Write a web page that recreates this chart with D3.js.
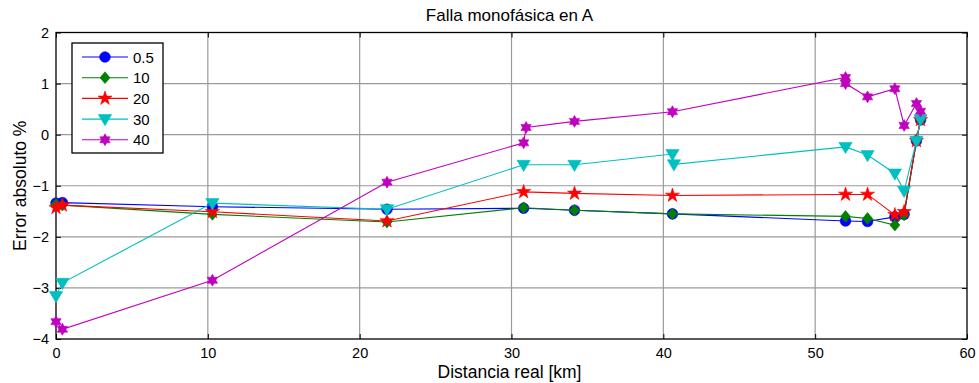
<!DOCTYPE html>
<html>
<head>
<meta charset="utf-8">
<script src="https://cdn.jsdelivr.net/npm/d3@7"></script>
<style>
  body { margin:0; background:#fff; }
  text { font-family: "Liberation Sans", Arial, sans-serif; fill:#000; }
</style>
</head>
<body>
<div id="chart"></div>
<script>
// series values
const seriesNames = ["0.5", "10", "20", "30", "40"];
const seriesColors = ["#0000ff", "#007f00", "#ff0000", "#00bfbf", "#bf00bf"];

const x05 = [0, 0.42, 10.3, 21.8, 30.8, 34.15, 40.6, 52.0, 53.45, 55.25, 55.86, 56.67, 56.94];
const y05 = [-1.34, -1.33, -1.41, -1.46, -1.44, -1.48, -1.55, -1.69, -1.70, -1.61, -1.56, -0.12, 0.29];

const x10 = [0, 0.42, 10.3, 21.8, 30.8, 34.15, 40.6, 52.0, 53.45, 55.25, 55.86, 56.67, 56.94];
const y10 = [-1.36, -1.38, -1.56, -1.71, -1.43, -1.48, -1.55, -1.60, -1.64, -1.77, -1.57, -0.12, 0.29];

const x20 = [0, 0.42, 10.3, 21.8, 30.8, 34.15, 40.6, 52.0, 53.45, 55.25, 55.86, 56.67, 56.94];
const y20 = [-1.43, -1.38, -1.51, -1.69, -1.12, -1.15, -1.19, -1.17, -1.17, -1.57, -1.51, -0.12, 0.29];

const x30 = [0, 0.42, 10.3, 21.8, 30.8, 34.15, 40.6, 40.7, 52.0, 53.45, 55.25, 55.86, 56.67, 56.94];
const y30 = [-3.16, -2.90, -1.34, -1.46, -0.59, -0.59, -0.38, -0.58, -0.24, -0.40, -0.76, -1.10, -0.12, 0.30];

const x40 = [0, 0.42, 10.3, 21.8, 30.8, 30.96, 34.15, 40.6, 52.0, 52.0, 53.45, 55.25, 55.86, 56.67, 56.94];
const y40 = [-3.66, -3.81, -2.85, -0.93, -0.16, 0.14, 0.26, 0.45, 1.12, 1.00, 0.74, 0.90, 0.18, 0.61, 0.46];

const xTicks = [0, 10, 20, 30, 40, 50, 60];
const yTicks = [-4, -3, -2, -1, 0, 1, 2];

const titleText = "Falla monofásica en A";
const xLabel = "Distancia real [km]";
const yLabel = "Error absoluto %";

const xs = [x05, x10, x20, x30, x40];
const ys = [y05, y10, y20, y30, y40];

// hexagram marker (matlab 'h')
const hexagram = {
    draw(ctx, size){
        const r = Math.sqrt(size / 2.2);
        const ri = r * 0.58;
        for(let i = 0; i < 12; i++){
            const a = -Math.PI/2 + i * Math.PI/6;
            const rr = i % 2 === 0 ? r : ri;
            if(i === 0) ctx.moveTo(rr*Math.cos(a), rr*Math.sin(a));
            else ctx.lineTo(rr*Math.cos(a), rr*Math.sin(a));
        }
        ctx.closePath();
    }
};
const triDown = {
    draw(ctx, size){
        const s = Math.sqrt(size);
        ctx.moveTo(-s*0.62, -s*0.42);
        ctx.lineTo(s*0.62, -s*0.42);
        ctx.lineTo(0, s*0.62);
        ctx.closePath();
    }
};
// matlab diamond is a square turned 45 deg, a bit taller than wide
const diamond = {
    draw(ctx, size){
        const h = Math.sqrt(size) * 0.62, w = h * 0.85;
        ctx.moveTo(0, -h);
        ctx.lineTo(w, 0);
        ctx.lineTo(0, h);
        ctx.lineTo(-w, 0);
        ctx.closePath();
    }
};
const markers = [
    d3.symbol(d3.symbolCircle, 90),
    d3.symbol(diamond, 90),
    d3.symbol(d3.symbolStar, 62),
    d3.symbol(triDown, 115),
    d3.symbol(hexagram, 78)
];

const W = 979, H = 383;
const margin = {top:32.5, right:12, bottom:44, left:56};
const width = W - margin.left - margin.right;
const height = H - margin.top - margin.bottom;

const svg = d3.select("#chart").append("svg")
    .attr("width", W)
    .attr("height", H);

const g = svg.append("g")
    .attr("transform", `translate(${margin.left},${margin.top})`);

const x = d3.scaleLinear().domain([0, 60]).range([0, width]);
const y = d3.scaleLinear().domain([-4, 2]).range([height, 0]);

// grid
g.append("g").selectAll("line")
    .data(xTicks.slice(1, -1))
    .join("line")
    .attr("x1", d => x(d)).attr("x2", d => x(d))
    .attr("y1", 0).attr("y2", height)
    .attr("stroke", "#9a9a9a").attr("stroke-width", 1.2);
g.append("g").selectAll("line")
    .data(yTicks.slice(1, -1))
    .join("line")
    .attr("y1", d => y(d)).attr("y2", d => y(d))
    .attr("x1", 0).attr("x2", width)
    .attr("stroke", "#9a9a9a").attr("stroke-width", 1.2);

// axes, ticks pointing inward like matlab
const fontSize = "14.5px";
const fmt = d3.format("d");
const xAxis = g.append("g")
    .attr("transform", `translate(0,${height})`)
    .call(d3.axisBottom(x).tickValues(xTicks).tickFormat(fmt).tickSizeInner(-5).tickSizeOuter(0).tickPadding(9));
const yAxis = g.append("g")
    .call(d3.axisLeft(y).tickValues(yTicks).tickFormat(fmt).tickSizeInner(-5).tickSizeOuter(0).tickPadding(7));
const xTop = g.append("g")
    .call(d3.axisTop(x).tickValues(xTicks).tickSizeInner(-5).tickSizeOuter(0).tickFormat(""));
const yRight = g.append("g")
    .attr("transform", `translate(${width},0)`)
    .call(d3.axisRight(y).tickValues(yTicks).tickSizeInner(-5).tickSizeOuter(0).tickFormat(""));

[xAxis, yAxis, xTop, yRight].forEach(a => {
    a.attr("font-size", null).attr("font-family", null);
    a.select(".domain").remove();
    a.selectAll("line").attr("stroke", "#000");
    a.selectAll("text").style("font-size", fontSize);
});

g.append("rect")
    .attr("width", width).attr("height", height)
    .attr("fill", "none").attr("stroke", "#000").attr("stroke-width", 1.3);

// series
const line = d3.line().x(d => x(d[0])).y(d => y(d[1]));

seriesNames.forEach((name, i) => {
    const pts = xs[i].map((v, j) => [v, ys[i][j]]);
    const sg = g.append("g").attr("class", "series");
    sg.append("path")
        .datum(pts)
        .attr("d", line)
        .attr("fill", "none")
        .attr("stroke", seriesColors[i])
        .attr("stroke-width", 1.1);
    sg.selectAll("path.m")
        .data(pts)
        .join("path")
        .attr("class", "m")
        .attr("d", markers[i])
        .attr("transform", d => `translate(${x(d[0])},${y(d[1])})`)
        .attr("fill", seriesColors[i])
        .attr("stroke", seriesColors[i])
        .attr("stroke-width", 0.6);
});

// legend
const legend = svg.append("g").attr("transform", "translate(72,43)");
legend.append("rect")
    .attr("width", 91).attr("height", 110)
    .attr("fill", "#fff").attr("stroke", "#000").attr("stroke-width", 1.3);
seriesNames.forEach((name, i) => {
    const ly = 14 + i * 20.7;
    legend.append("line")
        .attr("x1", 10).attr("x2", 56)
        .attr("y1", ly).attr("y2", ly)
        .attr("stroke", seriesColors[i]).attr("stroke-width", 1.1);
    legend.append("path")
        .attr("d", markers[i])
        .attr("transform", `translate(33,${ly})`)
        .attr("fill", seriesColors[i]).attr("stroke", seriesColors[i]).attr("stroke-width", 0.6);
    legend.append("text")
        .attr("x", 61).attr("y", ly + 5.5)
        .style("font-size", "15px")
        .text(name);
});

// labels
svg.append("text")
    .attr("x", margin.left + width/2 - 2).attr("y", 21)
    .attr("text-anchor", "middle")
    .style("font-size", "17px")
    .text(titleText);
svg.append("text")
    .attr("x", margin.left + width/2 - 2).attr("y", 378)
    .attr("text-anchor", "middle")
    .style("font-size", "17.5px")
    .text(xLabel);
svg.append("text")
    .attr("transform", `translate(26,${margin.top + height/2}) rotate(-90)`)
    .attr("text-anchor", "middle")
    .style("font-size", "17.5px")
    .text(yLabel);
</script>
</body>
</html>
